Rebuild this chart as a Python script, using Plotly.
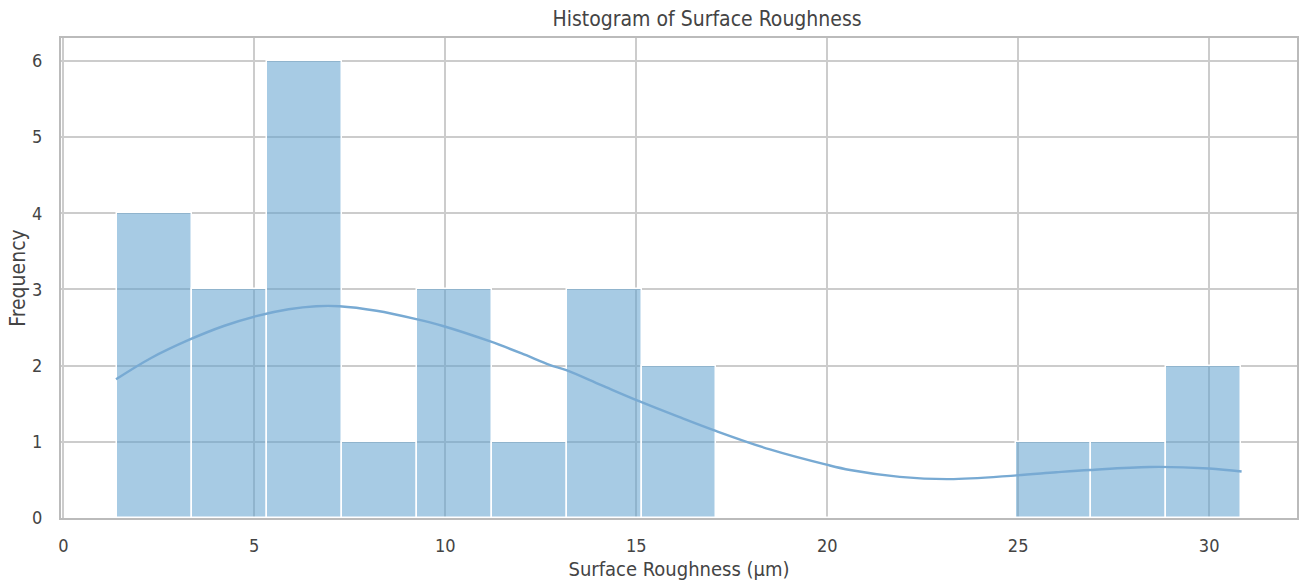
import plotly.graph_objects as go

# Histogram data
bin_edges = [1.41, 3.37, 5.33, 7.30, 9.26, 11.22, 13.18, 15.14, 17.10,
             19.06, 21.03, 22.99, 24.95, 26.91, 28.87, 30.83]
counts = [4, 3, 6, 1, 3, 1, 3, 2, 0, 0, 0, 0, 1, 1, 2]

# KDE curve
kde_x = [1.38, 2.3, 3.30, 4.2, 5.05, 5.9, 6.62, 7.23, 8.2, 9.24, 9.94, 11.16,
         12.0, 12.73, 13.17, 14.1, 15.09, 16.1, 17.10, 18.5, 19.98, 20.6,
         21.9, 23.2, 24.96, 26.0, 26.88, 28.45, 30.0, 30.85]
kde_y = [1.82, 2.10, 2.34, 2.52, 2.65, 2.74, 2.78, 2.78, 2.72, 2.61, 2.52, 2.32,
         2.16, 2.01, 1.94, 1.74, 1.53, 1.33, 1.14, 0.90, 0.70, 0.63,
         0.54, 0.51, 0.56, 0.60, 0.63, 0.67, 0.65, 0.61]

x_ticks = [0, 5, 10, 15, 20, 25, 30]
y_ticks = [0, 1, 2, 3, 4, 5, 6]

centers = [(bin_edges[i] + bin_edges[i + 1]) / 2 for i in range(len(counts))]
widths = [bin_edges[i + 1] - bin_edges[i] for i in range(len(counts))]

FONT = "DejaVu Sans Condensed, Liberation Sans Narrow, DejaVu Sans, sans-serif"

fig = go.Figure()
fig.add_trace(go.Bar(
    x=centers, y=counts, width=widths,
    marker=dict(color="rgba(95,160,205,0.55)",
                line=dict(color="white", width=1.5)),
    showlegend=False, hoverinfo="skip",
))
fig.add_trace(go.Scatter(
    x=kde_x, y=kde_y, mode="lines", line=dict(color="#78aad3", width=2.4, shape="spline"),
    showlegend=False, hoverinfo="skip",
))

fig.update_layout(
    width=1299, height=585,
    margin=dict(l=61, r=2, t=38, b=67, autoexpand=False),
    paper_bgcolor="white", plot_bgcolor="white",
    bargap=0,
    font=dict(family=FONT, color="#444444", size=18),
    title=dict(text="Histogram of Surface Roughness", x=679 / 1299, xanchor="center",
               xref="paper", y=1 - 19 / 585, yanchor="middle",
               font=dict(size=21, color="#444444")),
)
fig.update_xaxes(
    range=[-0.06, 32.3], tickvals=x_ticks, ticktext=[str(v) for v in x_ticks],
    showgrid=True, gridcolor="#cccccc", gridwidth=1.5,
    showline=True, linecolor="#bbbbbb", linewidth=2, mirror=True,
    ticks="outside", ticklen=10, tickcolor="rgba(0,0,0,0)",
    zeroline=False, tickfont=dict(size=18), automargin=False,
    title=dict(text="Surface Roughness (µm)", font=dict(size=20), standoff=7),
)
fig.update_yaxes(
    range=[0, 6.3], tickvals=y_ticks, ticktext=[str(v) for v in y_ticks],
    showgrid=True, gridcolor="#cccccc", gridwidth=1.5,
    showline=True, linecolor="#bbbbbb", linewidth=2, mirror=True,
    ticks="outside", ticklen=13, tickcolor="rgba(0,0,0,0)",
    zeroline=False, tickfont=dict(size=18), automargin=False,
    title=dict(text="Frequency", font=dict(size=21), standoff=1),
)

fig.write_html(
    "out.html",
    config={"displayModeBar": False},
    post_script="document.body.style.margin='0';document.body.style.overflow='hidden';",
)
